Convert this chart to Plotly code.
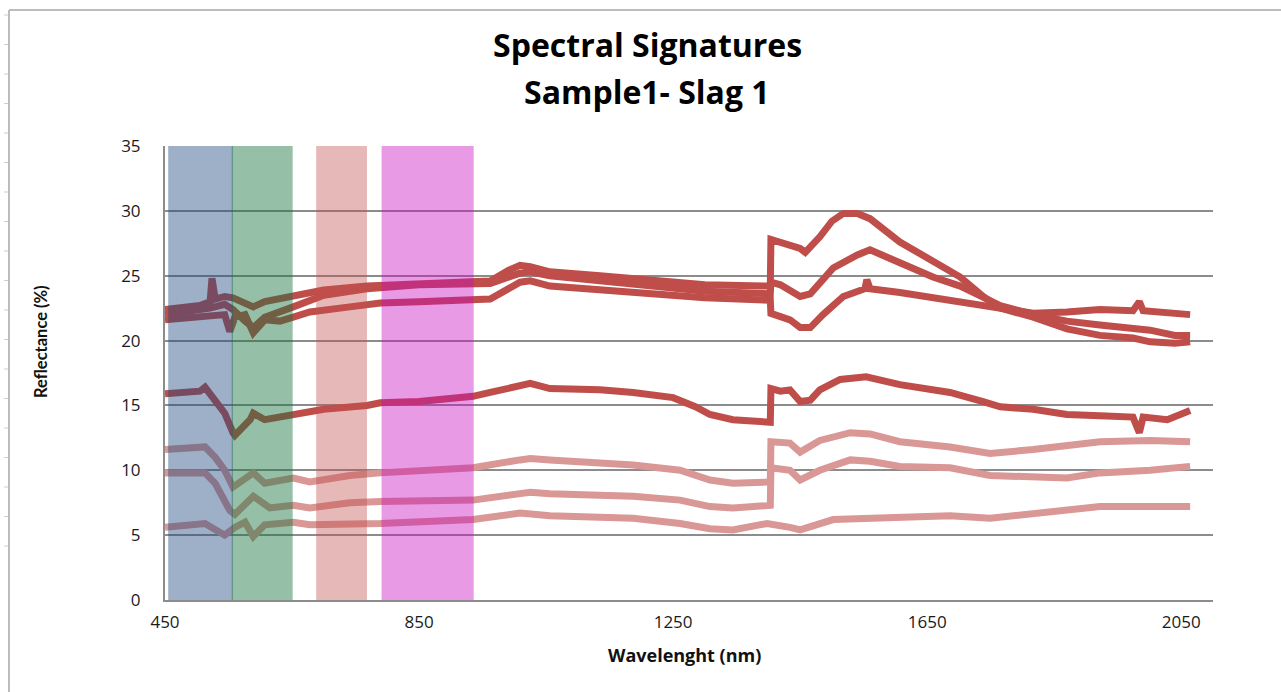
import plotly.graph_objects as go

# ---------------- data: wavelength (nm) and reflectance (%) per spectrum ----------------
wl_a = [450, 505, 521, 524, 529, 544, 557, 576, 589, 607, 631, 652, 700, 768, 850, 935, 962, 990,
        1009, 1025, 1056, 1135, 1214, 1300, 1398, 1403, 1404, 1419, 1450, 1458, 1481, 1500, 1518,
        1540, 1560, 1607, 1659, 1702, 1738, 1765, 1817, 1870, 1922, 1974, 2001, 2040, 2064]
refl_a = [22.4, 22.7, 23.0, 24.8, 23.2, 23.4, 23.3, 22.9, 22.6, 23.0, 23.2, 23.4, 23.9, 24.2, 24.4,
          24.5, 24.6, 25.4, 25.8, 25.7, 25.3, 25.0, 24.7, 24.3, 24.2, 24.2, 27.8, 27.6, 27.1, 26.8,
          28.0, 29.2, 29.8, 29.8, 29.4, 27.6, 26.2, 24.9, 23.4, 22.5, 21.8, 20.9, 20.4, 20.2, 19.9,
          19.8, 19.9]

wl_b = [450, 505, 521, 544, 557, 576, 589, 607, 631, 652, 700, 768, 850, 935, 962, 1009, 1025, 1056,
        1135, 1214, 1300, 1403, 1404, 1419, 1450, 1466, 1502, 1540, 1560, 1607, 1659, 1702, 1749,
        1765, 1817, 1870, 1922, 1974, 2001, 2040, 2064]
refl_b = [22.0, 22.3, 22.5, 22.8, 22.4, 21.5, 21.0, 21.8, 22.3, 22.6, 23.5, 24.0, 24.3, 24.4, 24.4,
          25.2, 25.3, 25.0, 24.6, 24.2, 23.8, 23.6, 24.5, 24.3, 23.4, 23.6, 25.6, 26.6, 27.0, 26.0,
          24.9, 24.2, 23.0, 22.7, 22.0, 21.5, 21.2, 21.0, 20.8, 20.4, 20.4]

wl_c = [450, 505, 544, 552, 560, 576, 589, 607, 631, 652, 678, 741, 789, 850, 935, 962, 1009, 1025,
        1056, 1135, 1214, 1300, 1403, 1404, 1434, 1450, 1466, 1486, 1518, 1552, 1555, 1560, 1607,
        1659, 1702, 1765, 1817, 1870, 1922, 1974, 1984, 1990, 2028, 2064]
refl_c = [21.6, 21.9, 22.0, 20.7, 21.8, 22.0, 20.6, 21.6, 21.5, 21.8, 22.2, 22.6, 22.9, 23.0, 23.1,
          23.2, 24.5, 24.6, 24.2, 23.9, 23.6, 23.3, 23.1, 22.1, 21.6, 21.0, 21.0, 22.0, 23.4, 24.0,
          24.7, 24.0, 23.7, 23.3, 23.1, 22.5, 22.1, 22.2, 22.4, 22.3, 23.0, 22.3, 22.1, 22.0]

wl_d = [450, 505, 513, 529, 544, 557, 560, 584, 589, 607, 631, 652, 700, 768, 789, 850, 935, 962,
        1009, 1025, 1056, 1135, 1187, 1250, 1285, 1308, 1344, 1398, 1403, 1404, 1419, 1434, 1450,
        1466, 1481, 1513, 1554, 1607, 1686, 1738, 1765, 1817, 1870, 1922, 1974, 1984, 1990, 2028,
        2053, 2064]
refl_d = [15.9, 16.1, 16.4, 15.4, 14.4, 12.9, 12.7, 13.9, 14.4, 13.9, 14.1, 14.4, 14.7, 15.0, 15.2,
          15.3, 15.7, 16.0, 16.6, 16.7, 16.3, 16.2, 16.0, 15.6, 14.9, 14.3, 13.9, 13.7, 13.7, 16.3,
          16.1, 16.2, 15.3, 15.4, 16.2, 17.0, 17.2, 16.6, 16.0, 15.3, 14.9, 14.7, 14.3, 14.2, 14.1,
          12.9, 14.1, 13.9, 14.3, 14.6]

wl_e = [450, 505, 513, 529, 544, 557, 576, 589, 607, 652, 678, 741, 789, 935, 1009, 1025, 1056,
        1135, 1187, 1261, 1308, 1344, 1398, 1403, 1404, 1434, 1450, 1481, 1529, 1560, 1607, 1686,
        1749, 1817, 1922, 2001, 2064]
refl_e = [11.6, 11.7, 11.8, 11.0, 10.0, 8.7, 9.3, 9.8, 9.0, 9.4, 9.1, 9.6, 9.8, 10.2, 10.8, 10.9,
          10.8, 10.6, 10.4, 10.0, 9.25, 9.0, 9.1, 9.1, 12.2, 12.1, 11.4, 12.3, 12.9, 12.8, 12.2, 11.8,
          11.3, 11.6, 12.2, 12.3, 12.2]

wl_f = [450, 513, 529, 552, 560, 589, 615, 652, 678, 741, 789, 935, 1009, 1025, 1056, 1187, 1261,
        1308, 1344, 1398, 1403, 1404, 1434, 1450, 1481, 1529, 1560, 1607, 1686, 1749, 1817, 1870,
        1922, 2001, 2064]
refl_f = [9.8, 9.8, 9.0, 6.9, 6.6, 8.0, 7.1, 7.3, 7.1, 7.5, 7.6, 7.7, 8.2, 8.3, 8.2, 8.0, 7.7, 7.2,
          7.1, 7.3, 7.3, 10.2, 10.0, 9.25, 10.0, 10.8, 10.7, 10.3, 10.2, 9.6, 9.5, 9.4, 9.8, 10.0, 10.3]

wl_g = [450, 513, 544, 560, 576, 589, 607, 652, 678, 789, 935, 1009, 1056, 1187, 1261, 1308, 1344,
        1398, 1434, 1450, 1502, 1607, 1686, 1749, 1817, 1870, 1922, 2064]
refl_g = [5.6, 5.9, 5.0, 5.6, 6.0, 4.9, 5.8, 6.0, 5.8, 5.9, 6.2, 6.7, 6.5, 6.3, 5.9, 5.5, 5.4, 5.9,
          5.6, 5.4, 6.2, 6.4, 6.5, 6.3, 6.7, 6.9, 7.2, 7.2]

# spectral windows shaded across the plot (nm)
band_edges = [(455, 557), (555, 651), (688, 768), (791, 936)]
band_colors = ["rgba(31,73,125,0.43)", "rgba(20,115,60,0.45)",
               "rgba(192,80,77,0.40)", "rgba(200,10,190,0.41)"]

x_ticks = [450, 850, 1250, 1650, 2050]
y_ticks = [0, 5, 10, 15, 20, 25, 30, 35]

DARK = "#BF4E4B"
LIGHT = "#D99795"

series = [
    (wl_g, refl_g, LIGHT), (wl_f, refl_f, LIGHT), (wl_e, refl_e, LIGHT),
    (wl_d, refl_d, DARK), (wl_c, refl_c, DARK), (wl_b, refl_b, DARK), (wl_a, refl_a, DARK),
]

fig = go.Figure()
for xs, ys, col in series:
    fig.add_trace(go.Scatter(x=xs, y=ys, mode="lines",
                             line=dict(color=col, width=7), showlegend=False,
                             hoverinfo="x+y"))

for (b0, b1), col in zip(band_edges, band_colors):
    fig.add_shape(type="rect", xref="x", yref="y", x0=b0, x1=b1, y0=0, y1=35.15,
                  fillcolor=col, line=dict(width=0), layer="above")

# outer chart frame (pixel positions converted to paper coordinates)
W, H = 1281, 692
L, R, T, B = 165, 1213, 146, 600


def px(xp):
    return (xp - L) / (R - L)


def py(yp):
    return (B - yp) / (B - T)


frame = dict(color="#BDBDBD", width=2)
fig.add_shape(type="line", xref="paper", yref="paper", x0=px(9), x1=px(1290),
              y0=py(10), y1=py(10), line=frame)
fig.add_shape(type="line", xref="paper", yref="paper", x0=px(9), x1=px(9),
              y0=py(10), y1=py(700), line=frame)
for k in range(19):
    yy = 15 + 29.5 * k
    fig.add_shape(type="line", xref="paper", yref="paper", x0=px(4), x1=px(8),
                  y0=py(yy), y1=py(yy), line=dict(color="#C8CDD6", width=1))

TITLE_FONT = dict(family="Open Sans", size=32, color="#000000")
fig.add_annotation(text="<b>Spectral Signatures</b>", xref="paper", yref="paper",
                   x=px(647), y=py(45), xanchor="center", yanchor="middle",
                   showarrow=False, font=TITLE_FONT)
fig.add_annotation(text="<b>Sample1- Slag 1</b>", xref="paper", yref="paper",
                   x=px(647), y=py(92), xanchor="center", yanchor="middle",
                   showarrow=False, font=TITLE_FONT)
fig.add_annotation(text="<b>Wavelenght (nm)</b>", xref="paper", yref="paper",
                   x=px(684), y=py(655), xanchor="center", yanchor="middle",
                   showarrow=False, font=dict(family="Open Sans", size=18, color="#111111"))
fig.add_annotation(text="<b>Reflectance (%)</b>", xref="paper", yref="paper",
                   x=px(41), y=py(342), xanchor="center", yanchor="middle", textangle=-90,
                   showarrow=False, font=dict(family="Lato", size=16.5, color="#111111"))

fig.update_layout(
    width=W, height=H, autosize=False,
    margin=dict(l=L, r=W - R, t=T, b=H - B),
    paper_bgcolor="white", plot_bgcolor="white",
    font=dict(family="Open Sans", color="#1A1A1A"),
    xaxis=dict(range=[450, 2100], tickvals=x_ticks, ticktext=[str(v) for v in x_ticks],
               showgrid=False, zeroline=False, showline=True, linecolor="#8C8C8C",
               linewidth=2, ticks="", tickfont=dict(size=17), ticklabelstandoff=6),
    yaxis=dict(range=[0, 35], tickvals=y_ticks, showgrid=True, gridcolor="#8C8C8C",
               gridwidth=1.5, zeroline=False, showline=True, linecolor="#8C8C8C",
               linewidth=2, ticks="", tickfont=dict(size=17), ticklabelstandoff=19),
)

fig.write_html("out.html")
